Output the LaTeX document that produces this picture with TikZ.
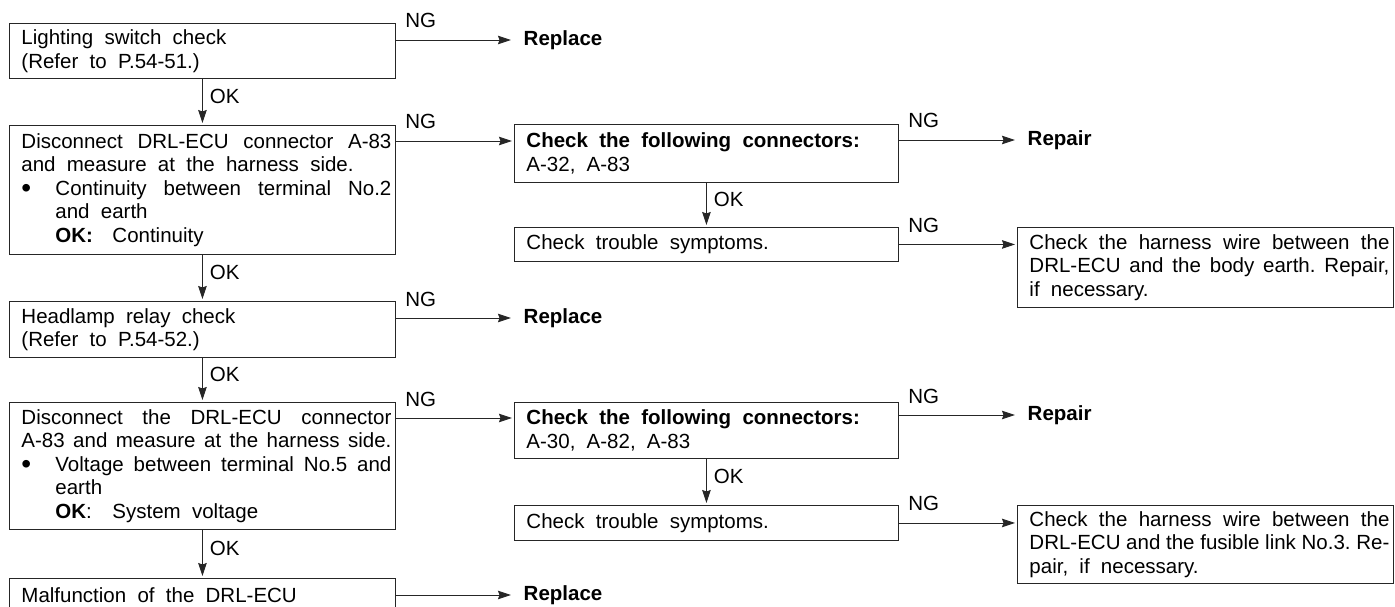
\documentclass[tikz,border=0pt]{standalone}
\usepackage{fontspec}
\setmainfont{Liberation Sans}
\usetikzlibrary{arrows.meta}
\newcommand{\boxfont}{\fontsize{20.5pt}{23.5pt}\selectfont\frenchspacing}
\newcommand{\wsp}{\spaceskip=0.55em plus 1em minus 0.3em\relax}
\newcommand{\jline}[1]{\hspace*{8pt}\makebox[\dimexpr\hsize-8pt\relax][s]{\wsp#1}}
\newcommand{\rline}[1]{\hspace*{8pt}\mbox{\wsp#1}}
\newcommand{\dotmark}{\makebox[34pt][l]{\raisebox{-2.5pt}{\fontsize{28pt}{28pt}\selectfont\textbullet}}}
\begin{document}
\begin{tikzpicture}[
        x=1pt, y=-1pt,
        every node/.style={font=\boxfont},
        box/.style={draw=black!85, line width=0.9pt, anchor=north west, align=left, inner xsep=4pt, inner ysep=0pt},
        wide/.style={box, text width=378pt},
        mid/.style={box, text width=376pt},
        slim/.style={box, text width=368pt},
        result/.style={anchor=west, inner xsep=10.5pt, inner ysep=0pt, font=\boxfont\bfseries},
        ng/.style={anchor=base west, inner sep=0pt, xshift=9pt, yshift=12pt},
        ok/.style={anchor=west, inner sep=0pt, xshift=7pt, pos=0.38},
        arr/.style={draw=black!85, line width=0.9pt, -{Stealth[length=13pt, width=8.5pt, inset=1.5pt]}, shorten >=2pt},
    ]
    \useasboundingbox (0,0) rectangle (1395,607);
    \clip (0,0) rectangle (1395,607);

    \node[wide, minimum height=55pt] (switch) at (9,23)
        {\rline{Lighting switch check}\\
         \rline{(Refer to P.54-51.)}};
    \node[wide, minimum height=129pt] (drl) at (9,125)
        {\jline{Disconnect DRL-ECU connector A-83}\\
         \rline{and measure at the harness side.}\\
         \jline{\dotmark Continuity between terminal No.2}\\
         \rline{\hspace*{34pt}and earth}\\
         \rline{\hspace*{34pt}\makebox[57pt][l]{\textbf{OK:}}Continuity}};
    \node[mid, minimum height=58pt] (conn1) at (514,124)
        {\rline{\textbf{Check the following connectors:}}\\
         \rline{A-32, A-83}};
    \node[mid, minimum height=34pt] (symp1) at (514,227)
        {\rline{Check trouble symptoms.}};
    \node[slim, minimum height=80pt] (harn1) at (1017,227)
        {\jline{Check the harness wire between the}\\
         \jline{DRL-ECU and the body earth. Repair,}\\
         \rline{if necessary.}};
    \node[wide, minimum height=56pt] (relay) at (9,301)
        {\rline{Headlamp relay check}\\
         \rline{(Refer to P.54-52.)}};
    \node[wide, minimum height=127pt] (volt) at (9,402)
        {\jline{Disconnect the DRL-ECU connector}\\
         \jline{A-83 and measure at the harness side.}\\
         \jline{\dotmark Voltage between terminal No.5 and}\\
         \rline{\hspace*{34pt}earth}\\
         \rline{\hspace*{34pt}\makebox[57pt][l]{\textbf{OK}:}System voltage}};
    \node[mid, minimum height=56pt] (conn2) at (514,402)
        {\rline{\textbf{Check the following connectors:}}\\
         \rline{A-30, A-82, A-83}};
    \node[mid, minimum height=35pt] (symp2) at (514,505)
        {\rline{Check trouble symptoms.}};
    \node[slim, minimum height=78pt] (harn2) at (1017,505)
        {\jline{Check the harness wire between the}\\
         \jline{DRL-ECU and the fusible link No.3. Re-}\\
         \rline{pair, if necessary.}};
    \node[wide, minimum height=34pt] (ecu) at (9,578)
        {\rline{Malfunction of the DRL-ECU}};

    \node[result] (rep1) at (513,40) {Replace};
    \node[result] (rep2) at (1017,140) {Repair};
    \node[result] (rep3) at (513,318) {Replace};
    \node[result] (rep4) at (1017,415) {Repair};
    \node[result] (rep5) at (513,595) {Replace};

    \coordinate (in1) at ([yshift=-17pt]conn1.north west);
    \coordinate (in2) at ([yshift=-16pt]conn2.north west);

    \draw[arr] (switch.east |- rep1) -- node[ng, pos=0]{NG} (rep1.west);
    \draw[arr] (switch) -- node[ok]{OK} (drl);
    \draw[arr] (drl.east |- in1) -- node[ng, pos=0]{NG} (in1);
    \draw[arr] (conn1.east |- rep2) -- node[ng, pos=0]{NG} (rep2.west);
    \draw[arr] (conn1) -- node[ok]{OK} (symp1);
    \draw[arr] (symp1.east) -- node[ng, pos=0]{NG} (symp1.east -| harn1.west);
    \draw[arr] (drl) -- node[ok]{OK} (relay);
    \draw[arr] (relay.east |- rep3) -- node[ng, pos=0]{NG} (rep3.west);
    \draw[arr] (relay) -- node[ok]{OK} (volt);
    \draw[arr] (volt.east |- in2) -- node[ng, pos=0]{NG} (in2);
    \draw[arr] (conn2.east |- rep4) -- node[ng, pos=0]{NG} (rep4.west);
    \draw[arr] (conn2) -- node[ok]{OK} (symp2);
    \draw[arr] (symp2.east) -- node[ng, pos=0]{NG} (symp2.east -| harn2.west);
    \draw[arr] (volt) -- node[ok]{OK} (ecu);
    \draw[arr] (ecu.east |- rep5) -- (rep5.west);
\end{tikzpicture}
\end{document}
